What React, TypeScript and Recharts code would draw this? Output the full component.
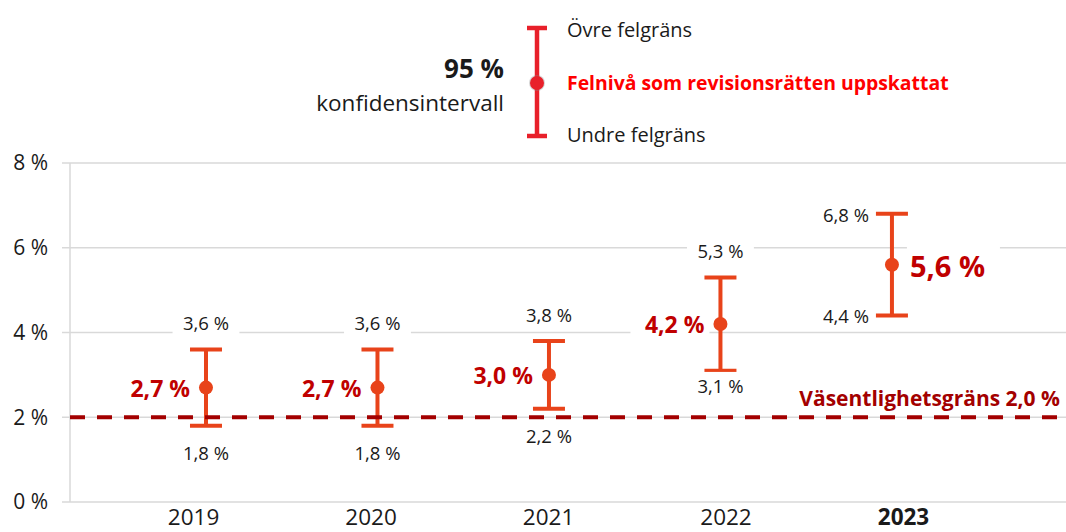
import React from 'react';
import { ComposedChart, Scatter, XAxis, YAxis, CartesianGrid, ErrorBar, ReferenceLine } from 'recharts';

const years = [2019, 2020, 2021, 2022, 2023];
const estimate = [2.7, 2.7, 3.0, 4.2, 5.6];
const lowerBound = [1.8, 1.8, 2.2, 3.1, 4.4];
const upperBound = [3.6, 3.6, 3.8, 5.3, 6.8];
const yTicks = [0, 2, 4, 6, 8];
const threshold = 2.0;
const thresholdLabel = 'Väsentlighetsgräns';
const highlightYear = 2023;
const legendTitle = '95 %';
const legendSubtitle = 'konfidensintervall';
const legendUpper = 'Övre felgräns';
const legendMid = 'Felnivå som revisionsrätten uppskattat';
const legendLower = 'Undre felgräns';

const FONT = "'Open Sans', sans-serif";
const BAR = '#E8431A';
const DARKRED = '#C00000';
const LINE_RED = '#A30000';
const TEXT = '#1a1a1a';
const GRID = '#d9d9d9';

const fmt = (v: number) => v.toFixed(1).replace('.', ',') + ' %';

const mainData = years.map((year, i) => ({
  year,
  value: estimate[i],
  err: [estimate[i] - lowerBound[i], upperBound[i] - estimate[i]],
}));
const upperData = years.map((year, i) => ({ year, value: upperBound[i] }));
const lowerData = years.map((year, i) => ({ year, value: lowerBound[i], low: lowerBound[i] }));

const estW = (t: string, fs: number, bold: boolean) => t.length * fs * (bold ? 0.6 : 0.55);

function BoxedText({ x, y, text, fs, bold, anchor, fill, pad }: any) {
  const w = estW(text, fs, bold);
  let left = x - w / 2;
  if (anchor === 'end') left = x - w;
  if (anchor === 'start') left = x;
  return (
    <g>
      <rect x={left - pad} y={y - fs * 1.12} width={w + pad * 2} height={fs * 1.45} fill="#fff" />
      <text x={x} y={y} textAnchor={anchor} fontSize={fs} fontWeight={bold ? 700 : 400} fill={fill} fontFamily={FONT}>
        {text}
      </text>
    </g>
  );
}

const SMALL = 18.5;

const UpperLabel = (p: any) => {
  const hl = p.payload.year === highlightYear;
  if (hl) return <BoxedText x={p.cx - 23} y={p.cy + 8} text={fmt(p.payload.value)} fs={SMALL} anchor="end" fill={TEXT} pad={5} />;
  return <BoxedText x={p.cx} y={p.cy - 19} text={fmt(p.payload.value)} fs={SMALL} anchor="middle" fill={TEXT} pad={8} />;
};

const LowerLabel = (p: any) => {
  const hl = p.payload.year === highlightYear;
  if (hl) return <BoxedText x={p.cx - 23} y={p.cy + 7} text={fmt(p.payload.value)} fs={SMALL} anchor="end" fill={TEXT} pad={5} />;
  const off = p.payload.low < threshold + 0.5 ? 34 : 22;
  return <BoxedText x={p.cx} y={p.cy + off} text={fmt(p.payload.value)} fs={SMALL} anchor="middle" fill={TEXT} pad={8} />;
};

const MainLabel = (p: any) => {
  const hl = p.payload.year === highlightYear;
  if (hl) return <BoxedText x={p.cx + 18} y={p.cy + 12} text={fmt(p.payload.value)} fs={29} bold anchor="start" fill={DARKRED} pad={3} />;
  return <BoxedText x={p.cx - 16} y={p.cy + 9} text={fmt(p.payload.value)} fs={23} bold anchor="end" fill={DARKRED} pad={5} />;
};

const Dot = (p: any) => <circle cx={p.cx} cy={p.cy} r={7} fill={BAR} />;
const Nothing = () => <g />;

const XTick = (p: any) => (
  <text x={p.x} y={525} textAnchor="middle" fontSize={22.5} fontFamily={FONT} fill={TEXT}
    fontWeight={p.payload.value === highlightYear ? 700 : 400}>
    {p.payload.value}
  </text>
);

const ThresholdLabel = (props: any) => {
  const vb = props.viewBox || {};
  return (
    <text x={(vb.x || 0) + (vb.width || 0) - 6} y={(vb.y || 0) - 11} textAnchor="end" fontSize={21}
      fontWeight={700} fill={LINE_RED} fontFamily={FONT}>
      {thresholdLabel + ' ' + fmt(threshold)}
    </text>
  );
};

function Legend() {
  const bx = 537;
  return (
    <svg width={1066} height={160} style={{ position: 'absolute', left: 0, top: 0, pointerEvents: 'none' }}>
      <text x={504} y={78} textAnchor="end" fontSize={26} fontWeight={700} fill={TEXT} fontFamily={FONT}>{legendTitle}</text>
      <text x={504} y={111} textAnchor="end" fontSize={22.5} fill={TEXT} fontFamily={FONT}>{legendSubtitle}</text>
      <line x1={bx} x2={bx} y1={28} y2={136} stroke="#E8202A" strokeWidth={4.5} />
      <line x1={bx - 10} x2={bx + 10} y1={28} y2={28} stroke="#E8202A" strokeWidth={4.5} />
      <line x1={bx - 10} x2={bx + 10} y1={136} y2={136} stroke="#E8202A" strokeWidth={4.5} />
      <circle cx={bx} cy={83} r={8} fill="#8a8a8a" opacity={0.35} />
      <circle cx={bx} cy={83} r={7} fill="#E8202A" />
      <text x={567} y={37} fontSize={20} fill={TEXT} fontFamily={FONT}>{legendUpper}</text>
      <text x={567} y={90} fontSize={19.4} fontWeight={700} fill="#FF0000" fontFamily={FONT}>{legendMid}</text>
      <text x={567} y={142} fontSize={20} fill={TEXT} fontFamily={FONT}>{legendLower}</text>
    </svg>
  );
}

export default function App() {
  return (
    <div style={{ position: 'absolute', left: 0, top: 0, width: 1066, height: 532, background: '#fff', fontFamily: FONT }}>
      <ComposedChart width={1066} height={532} margin={{ top: 163, right: 0, bottom: 0, left: 0 }}>
        <CartesianGrid xAxisId="main" horizontal vertical={false} stroke={GRID} strokeWidth={1.5} />
        <YAxis
          dataKey="value"
          type="number"
          domain={[0, 8]}
          ticks={yTicks}
          allowDataOverflow
          width={70}
          tickSize={8}
          tickMargin={14}
          axisLine={{ stroke: GRID, strokeWidth: 1.5 }}
          tickLine={{ stroke: GRID, strokeWidth: 1.5 }}
          tick={{ fontSize: 21, fill: TEXT, fontFamily: FONT }}
          tickFormatter={(v: number) => `${v} %`}
        />
        <XAxis xAxisId="main" dataKey="year" type="number" domain={[2018.207, 2024.015]} allowDataOverflow hide />
        <XAxis
          xAxisId="lbl"
          dataKey="year"
          type="number"
          domain={[2018.304, 2023.9155]}
          allowDataOverflow
          ticks={years}
          interval={0}
          height={30}
          tickSize={0}
          tickMargin={0}
          axisLine={false}
          tickLine={false}
          tick={XTick}
        />
        <Scatter xAxisId="lbl" data={mainData} dataKey="value" shape={Nothing} isAnimationActive={false} />
        <Scatter xAxisId="main" data={upperData} dataKey="value" shape={UpperLabel} isAnimationActive={false} />
        <Scatter xAxisId="main" data={lowerData} dataKey="value" shape={LowerLabel} isAnimationActive={false} />
        <Scatter xAxisId="main" data={mainData} dataKey="value" shape={MainLabel} isAnimationActive={false} />
        <Scatter xAxisId="main" data={mainData} dataKey="value" shape={Dot} isAnimationActive={false}>
          <ErrorBar dataKey="err" direction="y" width={16} strokeWidth={4} stroke={BAR} isAnimationActive={false} />
        </Scatter>
        <ReferenceLine
          xAxisId="main"
          y={threshold}
          stroke={LINE_RED}
          strokeWidth={4}
          strokeDasharray="15 12"
          zIndex={700}
          label={ThresholdLabel}
        />
      </ComposedChart>
      <Legend />
    </div>
  );
}
